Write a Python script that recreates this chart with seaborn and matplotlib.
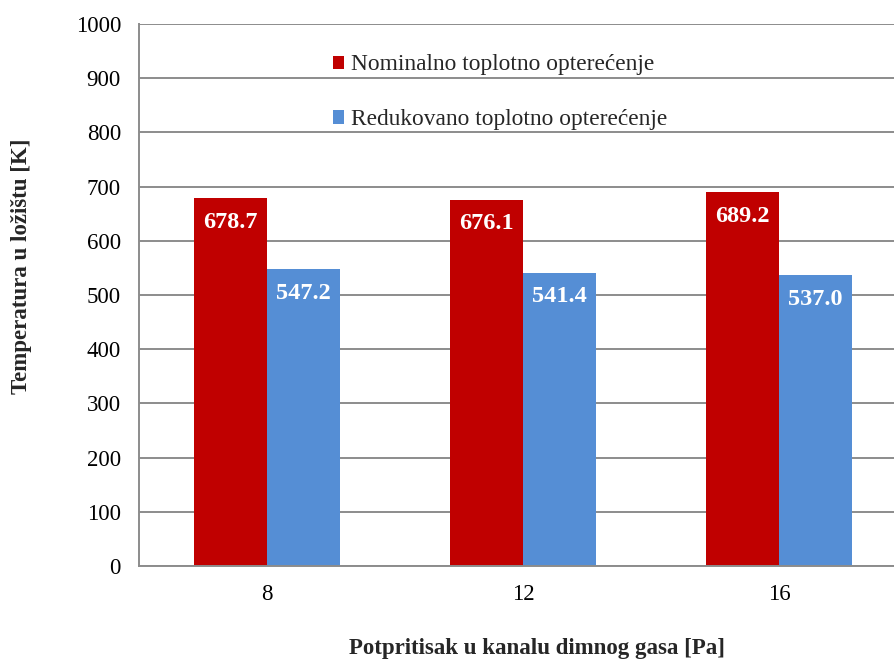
import matplotlib
matplotlib.use("Agg")
import matplotlib.pyplot as plt
from matplotlib.patches import Patch
import seaborn as sns
import pandas as pd
import numpy as np

# Data
pressures = ["8", "12", "16"]
nominal = [678.7, 676.1, 689.2]
reduced = [547.2, 541.4, 537.0]
series_names = ["Nominalno toplotno opterećenje", "Redukovano toplotno opterećenje"]
colors = ["#C00000", "#558ED5"]

df = pd.DataFrame({
    "pressure": pressures * 2,
    "value": nominal + reduced,
    "series": [series_names[0]] * 3 + [series_names[1]] * 3,
})

sns.set_theme(style="white")
plt.rcParams["font.family"] = ["Liberation Serif", "DejaVu Serif"]

fig = plt.figure(figsize=(8.94, 6.6), dpi=100)
ax = fig.add_axes([139 / 894, 94 / 660, 768 / 894, 542 / 660])

sns.barplot(data=df, x="pressure", y="value", hue="series", order=pressures,
            hue_order=series_names, palette=colors, width=0.57, gap=0,
            saturation=1, ax=ax, legend=False, edgecolor="none")

ax.set_ylim(0, 1000)
ax.set_xlim(-0.5, 2.5)
ax.set_yticks(np.arange(0, 1001, 100))
ax.yaxis.grid(True, color="#8c8c8c", linewidth=1.4)
ax.set_axisbelow(True)

for s in ["top", "right"]:
    ax.spines[s].set_visible(False)
for s in ["left", "bottom"]:
    ax.spines[s].set_color("#8c8c8c")
    ax.spines[s].set_linewidth(1.4)

ax.tick_params(axis="y", length=0, pad=13, labelsize=16.5, colors="black")
ax.tick_params(axis="x", length=0, pad=13, labelsize=16.5, colors="black")
ax.set_xticks([0.5, 1.5], minor=True)
ax.tick_params(axis="x", which="minor", direction="in", length=6,
               color="#8c8c8c", width=1.2)

# value labels inside the top of each bar
for cont in ax.containers:
    ax.bar_label(cont, fmt="%.1f", label_type="edge", padding=-25,
                 color="white", fontsize=17.5, fontweight="bold")

ax.set_ylabel("Temperatura u ložištu [K]", fontsize=16.5, fontweight="bold")
ax.yaxis.set_label_coords(-0.139, 0.5535)
ax.set_xlabel("Potpritisak u kanalu dimnog gasa [Pa]", fontsize=16.5, fontweight="bold")
ax.xaxis.set_label_coords(0.518, -0.133)

handles = [Patch(facecolor=c, edgecolor="none") for c in colors]
ax.legend(handles, series_names, loc="upper left", bbox_to_anchor=(0.240, 0.961),
          frameon=False, fontsize=16.8, handlelength=0.5, handleheight=0.5,
          handletextpad=0.3, labelspacing=1.45, borderaxespad=0)

fig.savefig("out.png", dpi=100)
